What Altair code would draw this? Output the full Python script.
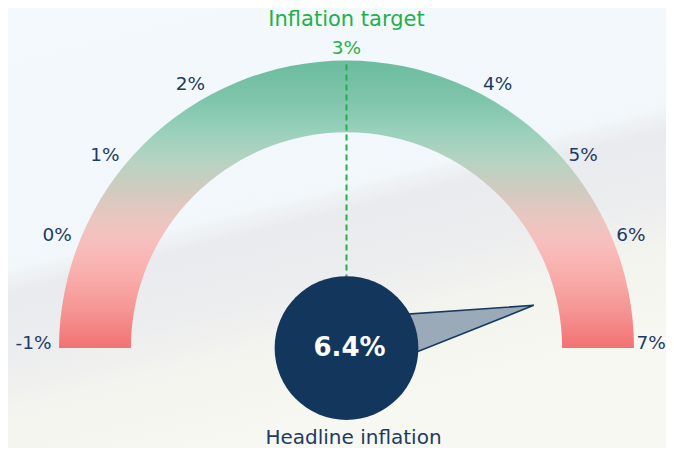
import altair as alt
import numpy as np
import pandas as pd

# ---------------- data ----------------
gauge_min = -1
gauge_max = 7
tick_values = [-1, 0, 1, 2, 3, 4, 5, 6, 7]
tick_labels = ["-1%", "0%", "1%", "2%", "3%", "4%", "5%", "6%", "7%"]
target_value = 3
target_title = "Inflation target"
headline_value = 6.4
headline_label = "6.4%"
headline_title = "Headline inflation"

# ---------------- layout / style ----------------
W, H = 658, 440          # whole chart (padding 0)
CX, CY = 338.5, 340.0    # gauge centre, px inside the chart
R = 287.5                # outer radius, px (1 data unit)
INNER = 0.75             # inner radius of the band (units of R)
HUB = 0.25               # hub circle radius
NEEDLE_LEN = 0.668
NEEDLE_HALF = 0.104
LABEL_R = 1.026
TITLE_R = 1.141
# angle (deg, counter-clockwise from 3 o'clock) of the gauge at each tick
gauge_angles = [180, 158.6, 140.3, 118.65, 90, 61.35, 39.7, 21.4, 0]

NAVY = "#13365d"
TEXT = "#1d3b63"
GREEN = "#22b04b"
FONT = "DejaVu Sans"


def gauge_angle(v):
    return float(np.interp(v, tick_values, gauge_angles))


xs = alt.Scale(domain=[-CX / R, (W - CX) / R], nice=False, zero=False)
ys = alt.Scale(domain=[-(H - CY) / R, CY / R], nice=False, zero=False)
ts = alt.Scale(type="linear", domain=tick_values,
               range=[float(np.radians(450 - a)) for a in gauge_angles])
rs = alt.Scale(type="linear", domain=[0, 1], range=[0, R], zero=True, nice=False)

X = lambda f: alt.X(f, scale=xs, axis=None)
Y = lambda f: alt.Y(f, scale=ys, axis=None, stack=False)

# ---------------- background ----------------
bg_grad = alt.LinearGradient(
    gradient="linear", x1=0, y1=0, x2=0.371, y2=1,
    stops=[
        alt.GradientStop(offset=0.0, color="#f3f9fd"),
        alt.GradientStop(offset=0.52, color="#f1f7fa"),
        alt.GradientStop(offset=0.57, color="#eaebef"),
        alt.GradientStop(offset=0.70, color="#ecedee"),
        alt.GradientStop(offset=0.82, color="#f4f4ef"),
        alt.GradientStop(offset=1.0, color="#f8f8f2"),
    ],
)
background = alt.Chart(pd.DataFrame({"k": [0]})).mark_rect(fill=bg_grad).encode(
    x=alt.value(0), x2=alt.value(W), y=alt.value(0), y2=alt.value(H)
)

# ---------------- gauge band ----------------
band_grad = alt.LinearGradient(
    gradient="linear", x1=0, y1=0, x2=0, y2=1,
    stops=[
        alt.GradientStop(offset=0.0, color="#6cbc9f"),
        alt.GradientStop(offset=0.14, color="#7fc5ab"),
        alt.GradientStop(offset=0.25, color="#9ad1bc"),
        alt.GradientStop(offset=0.35, color="#b6d3c2"),
        alt.GradientStop(offset=0.45, color="#d1cbbf"),
        alt.GradientStop(offset=0.55, color="#eac6c0"),
        alt.GradientStop(offset=0.64, color="#f8bebd"),
        alt.GradientStop(offset=0.75, color="#f8adab"),
        alt.GradientStop(offset=0.87, color="#f59593"),
        alt.GradientStop(offset=1.0, color="#f27272"),
    ],
)
band_df = pd.DataFrame({"cx": [0.0], "cy": [0.0], "lo": [gauge_min], "hi": [gauge_max],
                        "r_out": [1.0], "r_in": [INNER]})
band = alt.Chart(band_df).mark_arc(fill=band_grad, strokeWidth=0).encode(
    x=X("cx:Q"), y=Y("cy:Q"),
    theta=alt.Theta("lo:Q", scale=ts, stack=False), theta2="hi:Q",
    radius=alt.Radius("r_out:Q", scale=rs), radius2="r_in:Q",
)

# ---------------- target line ----------------
at = np.radians(gauge_angle(target_value))
target_df = pd.DataFrame({
    "x": [0.2 * np.cos(at)], "y": [0.2 * np.sin(at)],
    "x2": [0.995 * np.cos(at)], "y2": [0.995 * np.sin(at)],
})
target_line = alt.Chart(target_df).mark_rule(color=GREEN, strokeWidth=2, strokeDash=[6, 4]).encode(
    x=X("x:Q"), y=Y("y:Q"), x2="x2:Q", y2="y2:Q"
)

# ---------------- needle ----------------
an = np.radians(gauge_angle(headline_value))
ux, uy = np.cos(an), np.sin(an)
px, py = -uy, ux
A = (NEEDLE_HALF * px, NEEDLE_HALF * py)
B = (-NEEDLE_HALF * px, -NEEDLE_HALF * py)
T = (NEEDLE_LEN * ux, NEEDLE_LEN * uy)
y_up_B = A[1] + (B[0] - A[0]) * (T[1] - A[1]) / (T[0] - A[0])
needle_df = pd.DataFrame({
    "x": [A[0], B[0], T[0]],
    "y": [A[1], y_up_B, T[1]],
    "y2": [A[1], B[1], T[1]],
})
needle = alt.Chart(needle_df).mark_area(
    fill="#9aaab8", stroke="#163a5f", strokeWidth=1.6, orient="vertical", strokeJoin="miter"
).encode(x=X("x:Q"), y=Y("y:Q"), y2="y2:Q")

# ---------------- hub ----------------
hub_df = pd.DataFrame({"cx": [0.0], "cy": [0.0], "r": [HUB], "label": [headline_label]})
hub = alt.Chart(hub_df).mark_arc(theta=0, theta2=6.2832, fill=NAVY, strokeWidth=0).encode(
    x=X("cx:Q"), y=Y("cy:Q"), radius=alt.Radius("r:Q", scale=rs)
)
hub_text = alt.Chart(hub_df).mark_text(
    font=FONT, fontSize=26, fontWeight="bold", color="white", baseline="middle", align="center", dx=3
).encode(x=X("cx:Q"), y=Y("cy:Q"), text="label:N")

title_df = pd.DataFrame({"cx": [0.0], "cy": [0.0], "t": [headline_title]})
headline_text = alt.Chart(title_df).mark_text(
    font=FONT, fontSize=20, color=TEXT, baseline="middle", align="center", dx=7, dy=90
).encode(x=X("cx:Q"), y=Y("cy:Q"), text="t:N")

# ---------------- tick labels ----------------
ticks_df = pd.DataFrame({"v": tick_values, "label": tick_labels,
                         "cx": 0.0, "cy": 0.0, "r": LABEL_R})


def tick_layer(df, align, color, dx):
    return alt.Chart(df).mark_text(
        font=FONT, fontSize=18.5, color=color, align=align, baseline="middle", dy=-5, dx=dx
    ).encode(
        x=X("cx:Q"), y=Y("cy:Q"),
        theta=alt.Theta("v:Q", scale=ts, stack=False),
        radius=alt.Radius("r:Q", scale=rs),
        text="label:N",
    )


left_ticks = tick_layer(ticks_df[ticks_df.v < target_value], "right", TEXT, 0)
right_ticks = tick_layer(ticks_df[ticks_df.v > target_value], "left", TEXT, -5)
target_tick = tick_layer(ticks_df[ticks_df.v == target_value], "center", GREEN, 0)

tt_df = pd.DataFrame({"v": [target_value], "t": [target_title], "cx": [0.0], "cy": [0.0], "r": [TITLE_R]})
target_text = alt.Chart(tt_df).mark_text(
    font=FONT, fontSize=21, color=GREEN, align="center", baseline="middle"
).encode(
    x=X("cx:Q"), y=Y("cy:Q"),
    theta=alt.Theta("v:Q", scale=ts, stack=False),
    radius=alt.Radius("r:Q", scale=rs),
    text="t:N",
)

chart = alt.layer(
    background, band, target_line, needle, hub, hub_text, headline_text,
    left_ticks, right_ticks, target_tick, target_text,
).properties(
    width=W, height=H, padding=0, autosize="none", background="#f2f8fc"
).configure_view(strokeWidth=0)

chart.save("out.html", embed_options={"renderer": "svg", "actions": False})
